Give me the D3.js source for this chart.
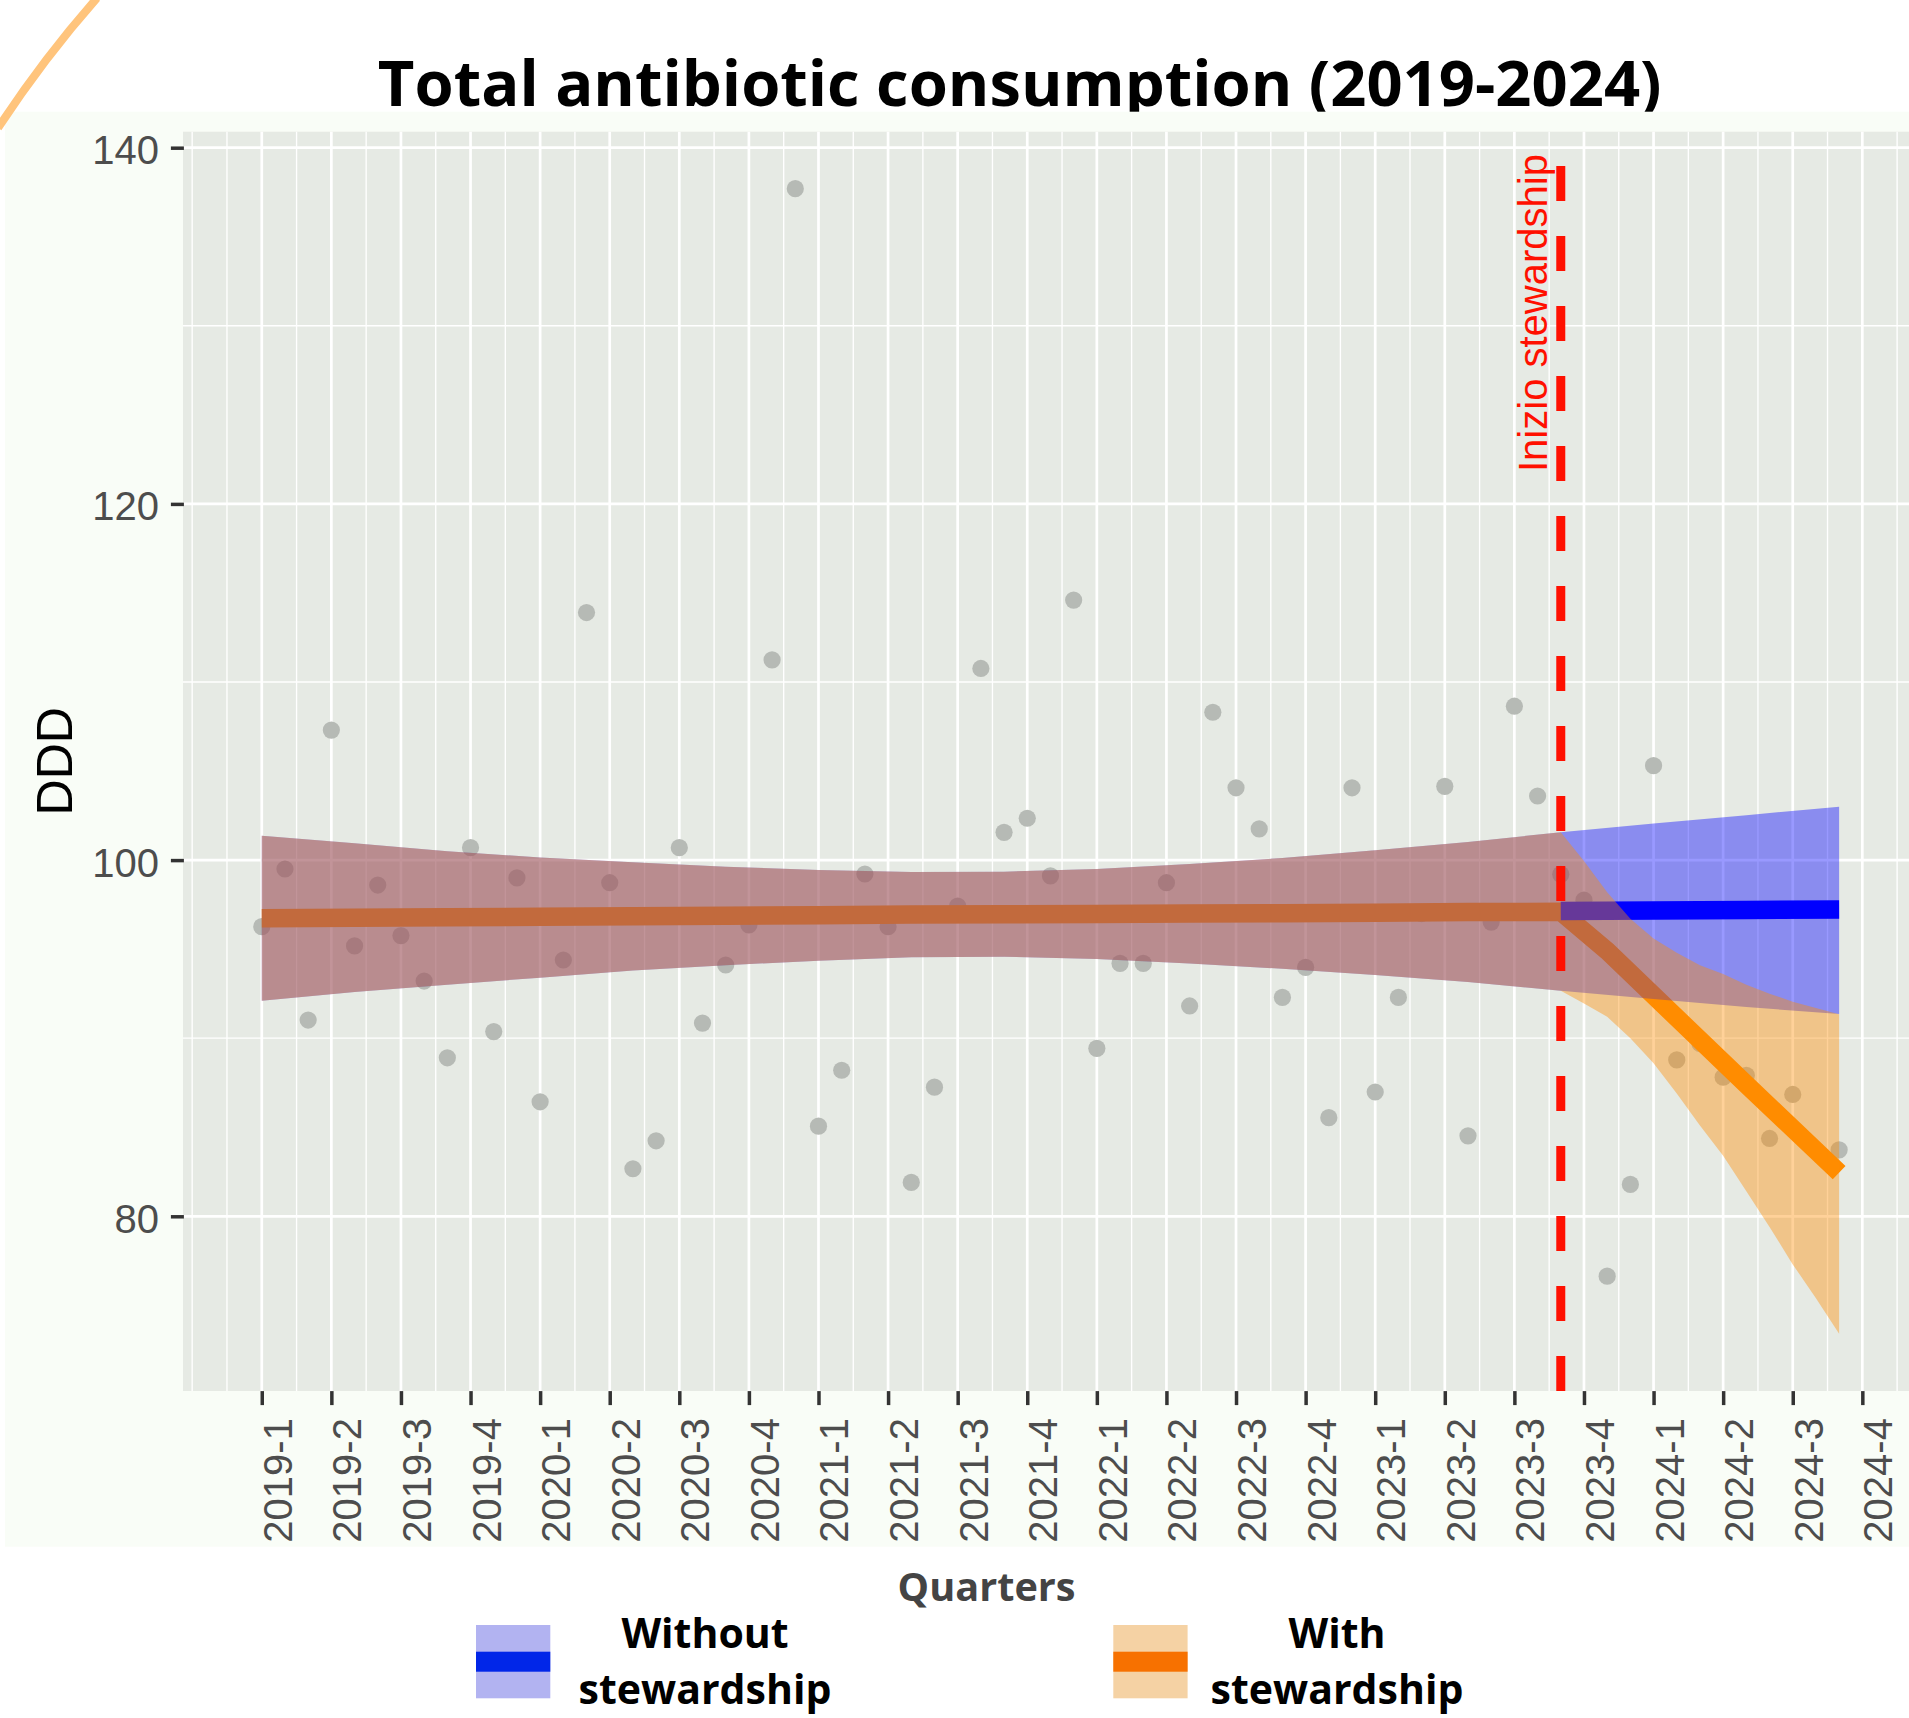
<!DOCTYPE html>
<html><head><meta charset="utf-8">
<script src="https://cdn.jsdelivr.net/npm/d3@7"></script>
<style>body{margin:0;background:#fff}svg{display:block}</style>
</head><body>
<svg id="chart" width="1909" height="1718"></svg>
<script>
// ---------------- data ----------------
const quarterLabels = ["2019-1","2019-2","2019-3","2019-4","2020-1","2020-2","2020-3","2020-4",
  "2021-1","2021-2","2021-3","2021-4","2022-1","2022-2","2022-3","2022-4",
  "2023-1","2023-2","2023-3","2023-4","2024-1","2024-2","2024-3","2024-4"];

// monthly observed DDD, Jan 2019 .. Sep 2024 (index 0..68)
const dddMonthly = [96.26, 99.5, 91.02, 107.3, 95.18, 98.6, 95.76, 93.21, 88.9, 100.7,
  90.37, 99.0, 86.43, 94.39, 113.9, 98.73, 82.67, 84.24, 100.7, 90.85,
  94.11, 96.36, 111.24, 137.7, 85.06, 88.2, 99.22, 96.26, 81.9, 87.25,
  97.42, 110.76, 101.56, 102.35, 99.11, 114.6, 89.43, 94.2, 94.2, 98.73,
  91.81, 108.3, 104.06, 101.75, 92.29, 93.98, 85.54, 104.06, 86.98, 92.29,
  97.0, 104.14, 84.52, 96.52, 108.64, 103.6, 99.2, 97.75, 76.64, 81.79,
  105.3, 88.78, 89.7, 87.81, 87.92, 84.37, 86.84, 83.7, 83.73];

// pre-intervention fit and confidence band (shared by both scenarios)
const preIdx   = [0, 4, 8, 12, 16, 20, 24, 28, 32, 36, 40, 44, 48, 52, 56];
const preUpper = [101.37, 100.95, 100.5, 100.15, 99.88, 99.62, 99.45, 99.33, 99.35, 99.5, 99.78, 100.12, 100.55, 101.02, 101.56];
const preLower = [92.1, 92.6, 93.0, 93.4, 93.8, 94.1, 94.35, 94.55, 94.58, 94.45, 94.2, 93.9, 93.55, 93.15, 92.67];
const preFit   = [96.73, 96.76, 96.79, 96.82, 96.85, 96.88, 96.91, 96.94, 96.96, 96.98, 97.0, 97.02, 97.05, 97.08, 97.1];

// "With stewardship" after the intervention
const withFitIdx = [56, 58, 64, 68];
const withFit    = [97.1, 94.9, 87.4, 82.45];
const withIdx    = [56, 57, 58, 59, 60, 61, 62, 63, 64, 65, 66, 67, 68];
const withUpper  = [101.56, 99.95, 98.2, 96.7, 95.6, 94.8, 94.1, 93.6, 93.0, 92.5, 92.05, 91.7, 91.35];
const withLower  = [92.67, 91.95, 91.2, 90.0, 88.6, 86.9, 85.1, 83.4, 81.4, 79.4, 77.3, 75.4, 73.4];

// "Without stewardship" after the intervention
const woIdx   = [56, 60, 64, 68];
const woFit   = [97.14, 97.17, 97.2, 97.22];
const woUpper = [101.56, 102.05, 102.52, 103.0];
const woLower = [92.67, 92.2, 91.75, 91.36];

const interventionMonth = 56;
const yTicks = [80, 100, 120, 140];
const legendLabels = [["Without", "stewardship"], ["With", "stewardship"]];

// ---------------- drawing ----------------
const svg = d3.select("#chart");
const FONT_R = "'Liberation Sans', Arial, sans-serif";
const FONT_B = "'Open Sans', 'Noto Sans', sans-serif";

svg.append("rect").attr("width", 1909).attr("height", 1718).attr("fill", "#ffffff");

// title (its descenders are hidden by the plot image below)
const title = svg.append("text").attr("x", 1019.7).attr("y", 106)
  .attr("text-anchor", "middle").attr("font-family", FONT_B).attr("font-weight", 700)
  .attr("font-size", 64).attr("fill", "#000").text("Total antibiotic consumption (2019-2024)");
function fitWidth(sel, target) {
  const fs = parseFloat(sel.attr("font-size"));
  const w = sel.node().getComputedTextLength();
  if (w > 0) sel.attr("font-size", fs * target / w);
}
fitWidth(title, 1284);

// plot image background
svg.append("rect").attr("x", 5).attr("y", 111.7).attr("width", 1904).attr("height", 1435)
  .attr("fill", "#f9fdf7");

// decorative arc top-left
svg.append("path").attr("d", "M97,-2 Q44,58 -2,128").attr("fill", "none")
  .attr("stroke", "#ffc47c").attr("stroke-width", 8);

// scales
const xMin = 0, xMax = dddMonthly.length - 1;
const xPad = 0.05 * (xMax - xMin);
const x = d3.scaleLinear().domain([xMin - xPad, xMax + xPad]).range([182.9, 1918]);
const allY = dddMonthly.concat(preUpper, preLower, withUpper, withLower, woUpper, woLower);
const yLo = d3.min(allY), yHi = d3.max(allY), yPad = 0.05 * (yHi - yLo);
const y = d3.scaleLinear().domain([yLo - yPad, yHi + yPad]).range([1391.1, 131.4]);

const pL = x.range()[0], pR = 1909, pT = y.range()[1], pB = y.range()[0];

svg.append("clipPath").attr("id", "pclip").append("rect")
  .attr("x", pL).attr("y", pT).attr("width", pR - pL).attr("height", pB - pT);
const panel = svg.append("g").attr("clip-path", "url(#pclip)");
panel.append("rect").attr("x", pL).attr("y", pT).attr("width", pR - pL).attr("height", pB - pT)
  .attr("fill", "#e6eae4");

// grid
const majorX = quarterLabels.map((_, k) => k * 3);
const minorX = [-3].concat(d3.range(-1.5, x.domain()[1], 3));
const minorY = d3.range(yTicks[0] - 10, y.domain()[1], 20).filter(v => v > y.domain()[0]);
panel.selectAll(".mgx").data(minorX).join("line")
  .attr("x1", d => x(d)).attr("x2", d => x(d)).attr("y1", pT).attr("y2", pB)
  .attr("stroke", "#ffffff").attr("stroke-width", 1.35);
panel.selectAll(".mgy").data(minorY).join("line")
  .attr("x1", pL).attr("x2", pR).attr("y1", d => y(d)).attr("y2", d => y(d))
  .attr("stroke", "#ffffff").attr("stroke-width", 1.35);
panel.selectAll(".Mgx").data(majorX).join("line")
  .attr("x1", d => x(d)).attr("x2", d => x(d)).attr("y1", pT).attr("y2", pB)
  .attr("stroke", "#ffffff").attr("stroke-width", 2.7);
panel.selectAll(".Mgy").data(yTicks).join("line")
  .attr("x1", pL).attr("x2", pR).attr("y1", d => y(d)).attr("y2", d => y(d))
  .attr("stroke", "#ffffff").attr("stroke-width", 2.7);

// observed points
panel.selectAll(".pt").data(dddMonthly).join("circle")
  .attr("cx", (d, i) => x(i)).attr("cy", d => y(d)).attr("r", 8.6)
  .attr("fill", "#b6bab5");

// series assembled
const pre = preIdx.map((m, k) => ({m, lo: preLower[k], hi: preUpper[k], fit: preFit[k]}));
const withBand = withIdx.map((m, k) => ({m, lo: withLower[k], hi: withUpper[k]}));
const withLine = withFitIdx.map((m, k) => ({m, fit: withFit[k]}));
const woPost = woIdx.map((m, k) => ({m, lo: woLower[k], hi: woUpper[k], fit: woFit[k]}));
const withAllBand = pre.concat(withBand.slice(1));
const withAllLine = pre.concat(withLine.slice(1));
const woAll = pre.concat(woPost.slice(1));

const area = d3.area().x(d => x(d.m)).y0(d => y(d.lo)).y1(d => y(d.hi));
const line = d3.line().x(d => x(d.m)).y(d => y(d.fit));

const ORANGE = "#ff8c00", BLUE = "#0000ff";
panel.append("path").datum(withAllLine).attr("d", line).attr("fill", "none")
  .attr("stroke", ORANGE).attr("stroke-width", 18.5).attr("stroke-linejoin", "miter");
panel.append("path").datum(woAll).attr("d", area).attr("fill", BLUE).attr("fill-opacity", 0.4);
panel.append("path").datum(woPost).attr("d", line).attr("fill", "none")
  .attr("stroke", BLUE).attr("stroke-width", 18.5);
panel.append("path").datum(withAllBand).attr("d", area).attr("fill", ORANGE).attr("fill-opacity", 0.4);

// intervention line
panel.append("line").attr("x1", x(interventionMonth)).attr("x2", x(interventionMonth))
  .attr("y1", pB).attr("y2", pT).attr("stroke", "#ff1000").attr("stroke-width", 9)
  .attr("stroke-dasharray", "35 35");
panel.append("text").attr("transform", `translate(${x(interventionMonth) - 14},472) rotate(-90)`)
  .attr("font-family", FONT_R).attr("font-size", 40).attr("fill", "#ff1000")
  .text("Inizio stewardship");

// axes
const yAxis = d3.axisLeft(y).tickValues(yTicks).tickSize(13).tickPadding(12).tickFormat(d3.format("d"));
const gy = svg.append("g").attr("transform", `translate(${pL + 1},0)`).call(yAxis);
gy.select(".domain").remove();
gy.selectAll(".tick line").attr("stroke", "#333333").attr("stroke-width", 3.5);
gy.selectAll(".tick text").attr("font-family", FONT_R).attr("font-size", 40)
  .attr("fill", "#4d4d4d").attr("dy", "0.4em");

const xAxis = d3.axisBottom(x).tickValues(majorX).tickSize(14)
  .tickFormat((d, k) => quarterLabels[k]);
const gx = svg.append("g").attr("transform", `translate(0,${pB})`).call(xAxis);
gx.select(".domain").remove();
gx.selectAll(".tick line").attr("stroke", "#333333").attr("stroke-width", 3.5);
gx.selectAll(".tick text").attr("font-family", FONT_R).attr("font-size", 40)
  .attr("fill", "#4d4d4d").attr("x", 0).attr("y", 0).attr("dy", null)
  .attr("text-anchor", "end").attr("transform", "translate(29.5,27) rotate(-90)");

// axis titles
svg.append("text").attr("transform", `translate(71.5,${(pT + pB) / 2}) rotate(-90)`)
  .attr("text-anchor", "middle").attr("font-family", FONT_R).attr("font-size", 50)
  .attr("fill", "#000").text("DDD");
const xt = svg.append("text").attr("x", 986.6).attr("y", 1601).attr("text-anchor", "middle")
  .attr("font-family", FONT_B).attr("font-weight", 700).attr("font-size", 40)
  .attr("fill", "#444444").text("Quarters");
fitWidth(xt, 178);

// legend
const legendSpec = [
  {key: 476, cx: 705, light: "#b2b3f1", dark: "#0126e8"},
  {key: 1113.3, cx: 1337, light: "#f5d2a4", dark: "#f77100"}
];
const lg = svg.append("g");
legendSpec.forEach((s, k) => {
  lg.append("rect").attr("x", s.key).attr("y", 1625).attr("width", 74.3).attr("height", 73.3).attr("fill", s.light);
  lg.append("rect").attr("x", s.key).attr("y", 1651.7).attr("width", 74.3).attr("height", 20).attr("fill", s.dark);
});
const probe = lg.append("text").attr("font-family", FONT_B).attr("font-weight", 700)
  .attr("font-size", 40).text(legendLabels[0][1]);
fitWidth(probe, 253);
const legendFs = parseFloat(probe.attr("font-size"));
probe.remove();
legendSpec.forEach((s, k) => {
  legendLabels[k].forEach((t, j) => {
    lg.append("text").attr("x", s.cx).attr("y", j === 0 ? 1648 : 1703.5)
      .attr("text-anchor", "middle").attr("font-family", FONT_B).attr("font-weight", 700)
      .attr("font-size", legendFs).attr("fill", "#000").text(t);
  });
});
</script>
</body></html>
